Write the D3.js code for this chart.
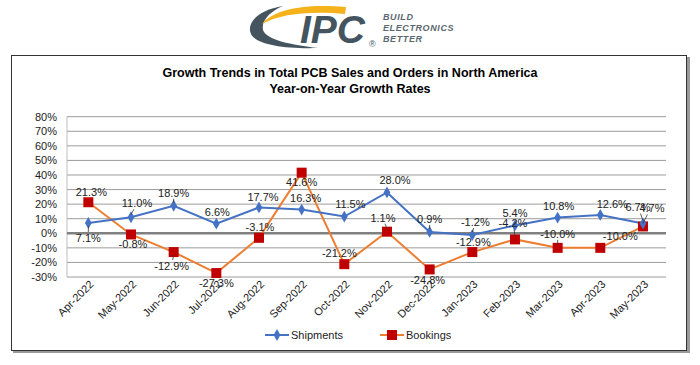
<!DOCTYPE html>
<html>
<head>
<meta charset="utf-8">
<script src="https://cdn.jsdelivr.net/npm/d3@7"></script>
<style>
  body { margin: 0; background: #fff; }
  svg text { font-family: Arial, "Liberation Sans", sans-serif; }
</style>
</head>
<body>
<div id="chart"></div>
<script>
// data
var months = ['Apr-2022', 'May-2022', 'Jun-2022', 'Jul-2022', 'Aug-2022', 'Sep-2022', 'Oct-2022',
    'Nov-2022', 'Dec-2022', 'Jan-2023', 'Feb-2023', 'Mar-2023', 'Apr-2023', 'May-2023'];
var shipments = [7.1, 11.0, 18.9, 6.6, 17.7, 16.3, 11.5, 28.0, 0.9, -1.2, 5.4, 10.8, 12.6, 6.7];
var bookings = [21.3, -0.8, -12.9, -27.3, -3.1, 41.6, -21.2, 1.1, -24.8, -12.9, -4.2, -10.0, -10.0, 4.7];
var yTicks = [-30, -20, -10, 0, 10, 20, 30, 40, 50, 60, 70, 80];

// label offsets (style only), [dx, dy] from the marker
var shipLabelOff = [[0, 15], [6, -14], [0, -13], [1, -12], [4, -10], [4, -11], [6, -12],
    [8, -12], [0, -13], [3, -13], [0, -12], [1, -11], [12, -11], [-5, -16]];
var bookLabelOff = [[3, -10], [2, 10], [-2, 14], [0, 10], [1, -11], [0, 9], [-5, -11],
    [-4, -14], [-2, 11], [1, -10], [-2, -16], [0, -14], [20, -12], [9, -18]];

var width = 700, height = 365;
var svg = d3.select('#chart').append('svg')
    .attr('width', width)
    .attr('height', height);

// ---- logo
var logo = svg.append('g');
logo.append('path')
    .attr('d', 'M 283 6 C 258 10, 246 23, 251 34 C 256 44, 282 49, 318 48 C 292 45, 266 40, 263 30 C 261 20, 271 11, 283 6 Z')
    .attr('fill', '#44555f');
logo.append('path')
    .attr('d', 'M 262 24 C 273 10, 302 3, 346 7 L 345 14 C 312 11, 282 13, 262 24 Z')
    .attr('fill', '#f5b21b');
logo.append('text')
    .attr('x', 300).attr('y', 43)
    .attr('font-size', 39).attr('font-weight', 'bold').attr('font-style', 'italic')
    .attr('fill', '#44555f')
    .text('IPC');
logo.append('text')
    .attr('x', 369).attr('y', 47)
    .attr('font-size', 9).attr('fill', '#44555f')
    .text('\u00ae');
['BUILD', 'ELECTRONICS', 'BETTER'].forEach(function (t, i) {
    logo.append('text')
        .attr('x', 383).attr('y', 20 + i * 11)
        .attr('font-size', 9).attr('font-weight', 'bold').attr('font-style', 'italic')
        .attr('letter-spacing', 0.6)
        .attr('fill', '#5b6770')
        .text(t);
});

// ---- chart frame with shadow
svg.append('rect')
    .attr('x', 13).attr('y', 57).attr('width', 677).attr('height', 296)
    .attr('fill', '#9a9a9a');
svg.append('rect')
    .attr('x', 11.5).attr('y', 55.5).attr('width', 675).attr('height', 295)
    .attr('fill', '#fff').attr('stroke', '#333').attr('stroke-width', 1);

svg.append('text')
    .attr('x', 350).attr('y', 77)
    .attr('text-anchor', 'middle')
    .attr('font-size', 12.5).attr('font-weight', 'bold')
    .text('Growth Trends in Total PCB Sales and Orders in North America');
svg.append('text')
    .attr('x', 350).attr('y', 92.5)
    .attr('text-anchor', 'middle')
    .attr('font-size', 12.5).attr('font-weight', 'bold')
    .text('Year-on-Year Growth Rates');

// ---- scales
var x = d3.scalePoint().domain(months).range([67, 664.3]).padding(0.5);
var y = d3.scaleLinear().domain([-30, 80]).range([277, 116.7]);

var plot = svg.append('g');

// gridlines
plot.selectAll('line.grid')
    .data(yTicks.filter(function (d) { return d !== 0; }))
    .enter().append('line')
    .attr('class', 'grid')
    .attr('x1', 67).attr('x2', 666)
    .attr('y1', function (d) { return y(d); })
    .attr('y2', function (d) { return y(d); })
    .attr('stroke', '#9c9c9c').attr('stroke-width', 1);

// y axis line
plot.append('line')
    .attr('x1', 67).attr('x2', 67)
    .attr('y1', y(80)).attr('y2', y(-30))
    .attr('stroke', '#bdbdbd').attr('stroke-width', 1);

// zero line
plot.append('line')
    .attr('x1', 67).attr('x2', 666)
    .attr('y1', y(0)).attr('y2', y(0))
    .attr('stroke', '#808080').attr('stroke-width', 2.5);

// y tick labels
var yAxis = d3.axisLeft(y).tickValues(yTicks).tickSize(0).tickPadding(0)
    .tickFormat(function (d) { return d + '%'; });
var yg = plot.append('g').attr('transform', 'translate(57,0)').call(yAxis);
yg.select('.domain').remove();
yg.selectAll('text').attr('font-size', 11).attr('fill', '#222')
    .attr('font-family', 'Arial, "Liberation Sans", sans-serif');

// x labels, rotated
plot.selectAll('text.xl')
    .data(months)
    .enter().append('text')
    .attr('class', 'xl')
    .attr('text-anchor', 'end')
    .attr('font-size', 11).attr('fill', '#222')
    .attr('transform', function (d) {
        return 'translate(' + (x(d) + 6) + ',' + 285 + ') rotate(-45)';
    })
    .text(function (d) { return d; });

// ---- series
var line = function (vals) {
    return d3.line()
        .x(function (d, i) { return x(months[i]); })
        .y(function (d) { return y(d); })(vals);
};

plot.append('path')
    .attr('d', line(bookings))
    .attr('fill', 'none').attr('stroke', '#ed7d31').attr('stroke-width', 2);
plot.append('path')
    .attr('d', line(shipments))
    .attr('fill', 'none').attr('stroke', '#4472c4').attr('stroke-width', 2);

var diamond = d3.symbol().type(d3.symbolDiamond).size(40);

plot.selectAll('rect.bk')
    .data(bookings)
    .enter().append('rect')
    .attr('class', 'bk')
    .attr('x', function (d, i) { return x(months[i]) - 5; })
    .attr('y', function (d) { return y(d) - 5; })
    .attr('width', 10).attr('height', 10)
    .attr('fill', '#c00000');

plot.selectAll('path.sh')
    .data(shipments)
    .enter().append('path')
    .attr('class', 'sh')
    .attr('d', diamond)
    .attr('transform', function (d, i) { return 'translate(' + x(months[i]) + ',' + y(d) + ')'; })
    .attr('fill', '#4472c4');

// data labels
function labels(vals, offs) {
    vals.forEach(function (v, i) {
        var px = x(months[i]), py = y(v);
        var lx = px + offs[i][0], ly = py + offs[i][1];
        if (Math.abs(offs[i][1]) >= 13) {
            // short leader line from label to marker
            var sy = offs[i][1] > 0 ? ly - 6 : ly + 6;
            plot.append('line')
                .attr('x1', lx - offs[i][0] * 0.5).attr('y1', sy)
                .attr('x2', px).attr('y2', py + (offs[i][1] > 0 ? 3 : -3))
                .attr('stroke', '#333').attr('stroke-width', 0.8);
        }
        plot.append('text')
            .attr('x', lx).attr('y', ly)
            .attr('dy', '0.35em')
            .attr('text-anchor', 'middle')
            .attr('font-size', 11).attr('fill', '#222')
            .text(v.toFixed(1) + '%');
    });
}
labels(shipments, shipLabelOff);
labels(bookings, bookLabelOff);

// ---- legend
var lg = svg.append('g').attr('transform', 'translate(0,335)');
lg.append('line').attr('x1', 265).attr('x2', 289).attr('y1', 0).attr('y2', 0)
    .attr('stroke', '#4472c4').attr('stroke-width', 2);
lg.append('path').attr('d', diamond).attr('transform', 'translate(277,0)').attr('fill', '#4472c4');
lg.append('text').attr('x', 291).attr('y', 0).attr('dy', '0.35em')
    .attr('font-size', 11).attr('fill', '#222').text('Shipments');
lg.append('line').attr('x1', 380).attr('x2', 404).attr('y1', 0).attr('y2', 0)
    .attr('stroke', '#ed7d31').attr('stroke-width', 2);
lg.append('rect').attr('x', 387).attr('y', -5).attr('width', 10).attr('height', 10)
    .attr('fill', '#c00000');
lg.append('text').attr('x', 406).attr('y', 0).attr('dy', '0.35em')
    .attr('font-size', 11).attr('fill', '#222').text('Bookings');
</script>
</body>
</html>
